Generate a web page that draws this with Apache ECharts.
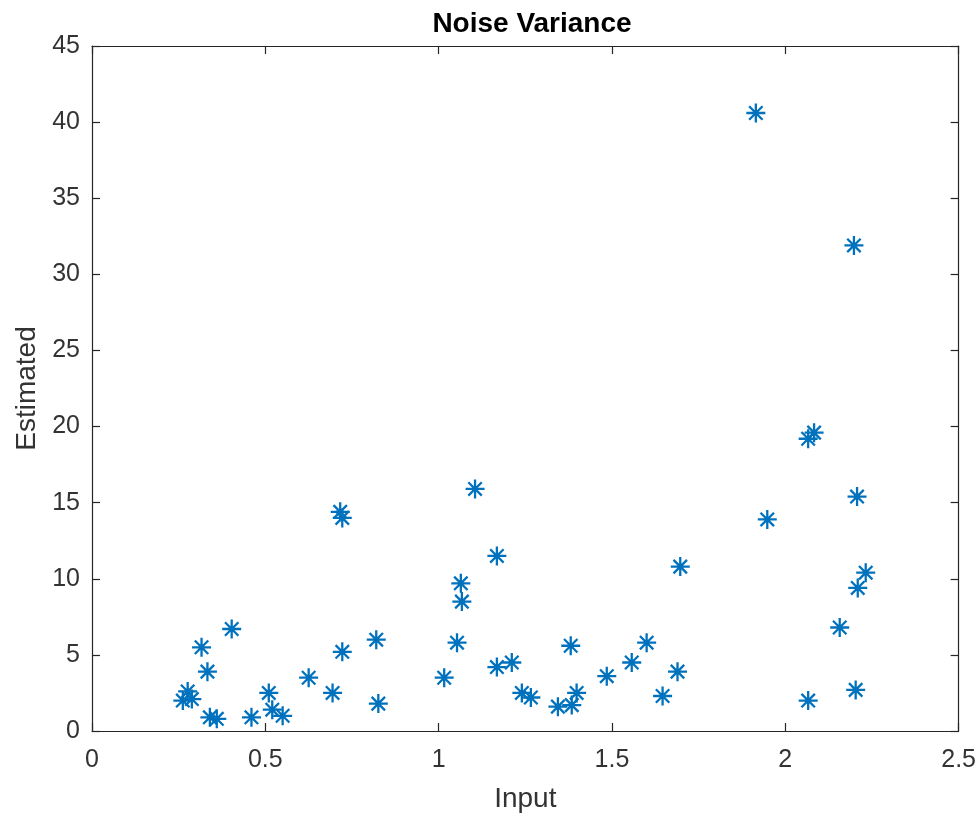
<!DOCTYPE html>
<html><head><meta charset="utf-8">
<script src="https://cdn.jsdelivr.net/npm/echarts@6/dist/echarts.min.js"></script>
<style>html,body{margin:0;padding:0;background:#fff}#c{width:979px;height:818px}</style>
</head><body><div id="c"></div>
<script>
const title = 'Noise Variance';
const xName = 'Input';
const yName = 'Estimated';
const inputX = [0.262,0.276,0.288,0.316,0.333,0.403,0.34,0.36,0.46,0.51,0.52,0.55,0.625,0.694,0.722,0.82,0.826,1.016,
  0.716,0.722,1.105,1.168,1.064,1.067,1.053,1.168,1.211,1.24,1.266,1.344,1.384,1.398,1.381,
  1.485,1.557,1.600,1.646,1.689,1.697,2.066,2.157,2.203,2.209,2.232,
  1.915,2.198,2.066,2.083,2.207,1.948];
const estimatedY = [2.0,2.6,2.1,5.5,3.9,6.7,0.9,0.8,0.9,2.5,1.4,1.0,3.5,2.5,5.2,6.0,1.8,3.5,
  14.4,14.0,15.9,11.5,9.7,8.5,5.8,4.2,4.5,2.5,2.2,1.6,1.7,2.5,5.6,
  3.6,4.5,5.8,2.3,3.9,10.8,2.0,6.8,2.7,9.4,10.4,
  40.6,31.9,19.2,19.6,15.4,13.9];
const xTicks = [0,0.5,1,1.5,2,2.5];
const yTicks = [0,5,10,15,20,25,30,35,40,45];

const data = inputX.map((x,i)=>[x, estimatedY[i]]);
const axisCol = '#262626';
const textCol = '#333333';
const font = 'Liberation Sans, Arial, sans-serif';
const star = 'path://M0,-10L0,10M-10,0L10,0M-7.07,-7.07L7.07,7.07M-7.07,7.07L7.07,-7.07';
function common(){ return {
  axisLine:{show:true,onZero:false,lineStyle:{color:axisCol,width:1.2}},
  axisTick:{show:true,inside:true,length:8,lineStyle:{color:axisCol,width:1.2}},
  splitLine:{show:false}
};}
const chart = echarts.init(document.getElementById('c'));
chart.setOption({
  backgroundColor:'#fff',
  animation:false,
  title:{text:title,left:527,textAlign:'center',top:5,textStyle:{fontFamily:font,fontSize:28,fontWeight:'bold',color:'#000'}},
  grid:{left:92,right:16,top:46,bottom:86},
  xAxis:[
    Object.assign({type:'value',min:xTicks[0],max:xTicks[xTicks.length-1],interval:0.5,position:'bottom',
      name:xName,nameLocation:'middle',nameGap:54,nameTextStyle:{fontFamily:font,fontSize:28,color:textCol},
      axisLabel:{fontFamily:font,fontSize:25,color:textCol,margin:17}},common()),
    Object.assign({type:'value',min:xTicks[0],max:xTicks[xTicks.length-1],interval:0.5,position:'top',axisLabel:{show:false}},common())
  ],
  yAxis:[
    Object.assign({type:'value',min:yTicks[0],max:yTicks[yTicks.length-1],interval:5,position:'left',
      name:yName,nameLocation:'middle',nameGap:50,nameTextStyle:{fontFamily:font,fontSize:28,color:textCol},
      axisLabel:{fontFamily:font,fontSize:25,color:textCol,margin:12}},common()),
    Object.assign({type:'value',min:yTicks[0],max:yTicks[yTicks.length-1],interval:5,position:'right',axisLabel:{show:false}},common())
  ],
  series:[{type:'scatter',data:data,symbol:star,symbolSize:19,
    itemStyle:{color:'rgba(0,0,0,0)',borderColor:'#0072BD',borderWidth:2.3,opacity:1}}]
});
</script></body></html>
